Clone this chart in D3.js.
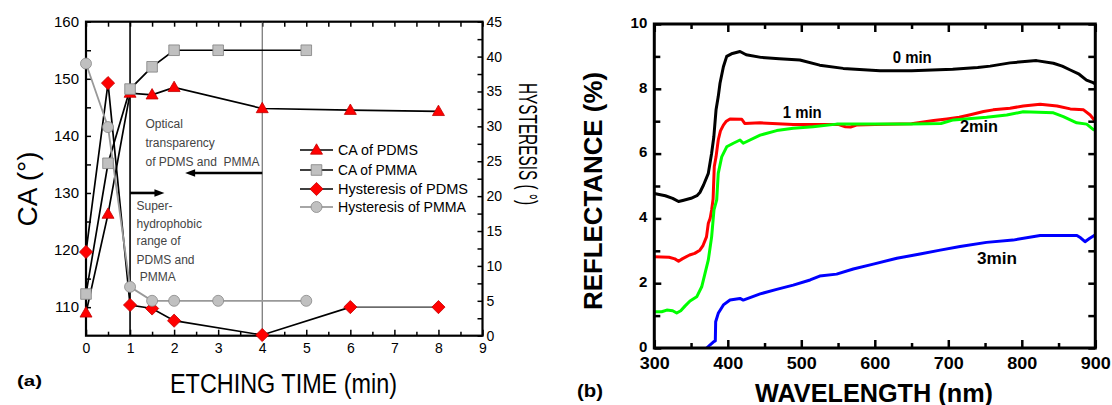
<!DOCTYPE html>
<html><head><meta charset="utf-8">
<script src="https://cdn.jsdelivr.net/npm/d3@7"></script>
<style>
body{margin:0;background:#fff}
svg{display:block}
text{font-family:"Liberation Sans",Arial,sans-serif}
</style>
</head><body>
<svg id="c" width="1112" height="405"></svg>
<script>
// ---------- Panel (a) data ----------
const timePDMS = [0, 0.5, 1, 1.5, 2, 4, 6, 8];
const caPDMS = [109, 126.3, 147.5, 147.2, 148.5, 144.8, 144.5, 144.3];
const timePMMA = [0, 0.5, 1, 1.5, 2, 3, 5];
const caPMMA = [112.3, 135.2, 148.2, 152.1, 155, 155, 155];
const hystPDMS = [12, 36.2, 4.4, 3.9, 2.15, 0.1, 4.1, 4.1];
const hystPMMA = [39, 29.9, 7, 5, 5, 5, 5];
const xTicksA = [0, 1, 2, 3, 4, 5, 6, 7, 8, 9];
const xMinorA = [0.5, 1.5, 2.5, 3.5, 4.5, 5.5, 6.5, 7.5, 8.5];
const caTicks = [110, 120, 130, 140, 150, 160];
const caMinor = [115, 125, 135, 145, 155];
const hystTicks = [0, 5, 10, 15, 20, 25, 30, 35, 40, 45];
const hystMinor = [2.5, 7.5, 12.5, 17.5, 22.5, 27.5, 32.5, 37.5, 42.5];
const legendLabels = ["CA of PDMS", "CA of PMMA", "Hysteresis of PDMS", "Hysteresis of PMMA"];
const noteOptical = ["Optical", "transparency", "of PDMS and  PMMA"];
const noteSuper = ["Super-", "hydrophobic", "range of", "PDMS and", " PMMA"];

// ---------- Panel (b) data ----------
const wl0 = [300,315,325,333,340,350,358,362,367,373.5,378,381,384,387,389.4,394,398.5,405,416.6,425,445,470,498,525,557,607,650,706,740,757,784,820,843,855,866,878,888,897,900];
const r0  = [4.77,4.7,4.62,4.52,4.56,4.62,4.7,4.8,5.03,5.39,6.01,6.52,7.35,7.76,8.17,8.68,9.0,9.08,9.15,9.05,8.97,8.93,8.89,8.73,8.63,8.56,8.56,8.6,8.66,8.7,8.8,8.87,8.79,8.7,8.58,8.45,8.27,8.19,8.15];
const wl1 = [300,320,328,333,338,348,355,362,366,371,373.5,376,378,380,381.6,384,387,390,394,398,403,419,423,444,489,520,550,560,567,575,600,650,680,698,715,730,748,761,784,802,825,848,866,884,893,900];
const r1  = [2.82,2.8,2.75,2.68,2.75,2.87,2.92,3.02,3.15,3.43,3.85,4.0,4.26,4.6,5.6,5.9,6.42,6.7,6.88,7.0,7.07,7.06,6.93,6.95,6.9,6.9,6.9,6.83,6.82,6.88,6.9,6.92,7.02,7.07,7.12,7.2,7.3,7.35,7.4,7.47,7.52,7.47,7.38,7.35,7.19,7.0];
const wl2 = [300,310,317,325,330.5,336,342,348.6,357.7,364.5,369,373.5,378,381.2,384.9,387,391.7,398.5,407.5,416.6,421,444,466.5,489,516,548,600,650,690,707,752,779.5,802,843,856.5,874.7,888.3,897,900];
const r2  = [1.12,1.12,1.17,1.15,1.08,1.15,1.3,1.45,1.58,1.89,2.3,2.72,3.43,4.26,4.57,5.39,5.9,6.21,6.32,6.42,6.32,6.57,6.71,6.78,6.83,6.91,6.91,6.91,6.93,7.04,7.12,7.19,7.29,7.26,7.14,6.95,6.91,6.75,6.72];
const wl3 = [371.3,376,381,383,383.5,387,394,403,416.6,421,444,466.5,489,512,525,548,570.7,598,630,661.5,689,716,752,788,825,875,880,886,892,899.6];
const r3  = [0.0,0.1,0.2,0.22,0.81,1.07,1.33,1.48,1.53,1.48,1.67,1.81,1.94,2.1,2.22,2.28,2.44,2.59,2.77,2.9,3.02,3.13,3.26,3.33,3.47,3.47,3.4,3.28,3.38,3.49];
const wlTicks = [300, 400, 500, 600, 700, 800, 900];
const wlMinor = [350, 450, 550, 650, 750, 850];
const rTicks = [0, 2, 4, 6, 8, 10];
const rMinor = [1, 3, 5, 7, 9];
const curveNames = ["0 min", "1 min", "2min", "3min"];

const svg = d3.select("#c");

// ================= Panel (a) =================
const xA = d3.scaleLinear().domain([0, 9]).range([86, 482.5]);
const yCA = d3.scaleLinear().domain([105, 160]).range([335.7, 21.7]);
const yH = d3.scaleLinear().domain([0, 45]).range([335.7, 21.7]);

const gA = svg.append("g");

function styleAxis(g, fs, bold, sw) {
  g.select(".domain").remove();
  g.selectAll(".tick line").attr("stroke", "#000").attr("stroke-width", sw);
  g.selectAll("text").attr("font-size", fs).attr("font-weight", bold ? "bold" : "normal")
    .attr("fill", "#000").attr("font-family", "'Liberation Sans',Arial,sans-serif");
}

// axes (ticks inside)
gA.append("g").attr("transform", `translate(0,${yCA.range()[0]})`)
  .call(d3.axisBottom(xA).tickValues(xTicksA).tickSizeInner(-6).tickSizeOuter(0).tickPadding(7.7).tickFormat(d3.format("d")))
  .call(g => styleAxis(g, 14, false, 1.5));
gA.append("g").attr("transform", `translate(0,${yCA.range()[0]})`)
  .call(d3.axisBottom(xA).tickValues(xMinorA).tickSizeInner(-4).tickSizeOuter(0).tickFormat(""))
  .call(g => styleAxis(g, 14, false, 1.5));
gA.append("g").attr("transform", `translate(0,${yCA.range()[1]})`)
  .call(d3.axisTop(xA).tickValues(xTicksA.concat(xMinorA)).tickSizeInner(-5).tickSizeOuter(0).tickFormat(""))
  .call(g => styleAxis(g, 14, false, 1.5));
gA.append("g").attr("transform", `translate(${xA.range()[0]},0)`)
  .call(d3.axisLeft(yCA).tickValues(caTicks).tickSizeInner(-5).tickSizeOuter(0).tickPadding(7))
  .call(g => styleAxis(g, 15, false, 1.5));
gA.append("g").attr("transform", `translate(${xA.range()[0]},0)`)
  .call(d3.axisLeft(yCA).tickValues(caMinor).tickSizeInner(-5).tickSizeOuter(0).tickFormat(""))
  .call(g => styleAxis(g, 15, false, 1.5));
gA.append("g").attr("transform", `translate(${xA.range()[1]},0)`)
  .call(d3.axisRight(yH).tickValues(hystTicks).tickSizeInner(-5).tickSizeOuter(0).tickPadding(4))
  .call(g => styleAxis(g, 14, false, 1.5));
gA.append("g").attr("transform", `translate(${xA.range()[1]},0)`)
  .call(d3.axisRight(yH).tickValues(hystMinor).tickSizeInner(-5).tickSizeOuter(0).tickFormat(""))
  .call(g => styleAxis(g, 14, false, 1.5));

// frame
gA.append("rect").attr("x", xA(0)).attr("y", yCA(160)).attr("width", xA(9) - xA(0)).attr("height", yCA(105) - yCA(160))
  .attr("fill", "none").attr("stroke", "#000").attr("stroke-width", 2.2);

// vertical reference lines
gA.append("line").attr("x1", xA(1)).attr("x2", xA(1)).attr("y1", yCA(160)).attr("y2", yCA(105))
  .attr("stroke", "#000").attr("stroke-width", 1.6);
gA.append("line").attr("x1", xA(4)).attr("x2", xA(4)).attr("y1", yCA(160)).attr("y2", yCA(105))
  .attr("stroke", "#555").attr("stroke-width", 1);

// arrows
function arrow(x1, x2, y) {
  const dir = Math.sign(x2 - x1);
  gA.append("line").attr("x1", x1).attr("x2", x2 - dir * 6).attr("y1", y).attr("y2", y)
    .attr("stroke", "#000").attr("stroke-width", 2.6);
  gA.append("path").attr("d", `M${x2},${y}L${x2 - dir * 10},${y - 3.8}L${x2 - dir * 10},${y + 3.8}Z`).attr("fill", "#000");
}
arrow(xA(1), xA(1.78), yCA(130));
arrow(xA(4), xA(2.25), yCA(133.5));

// annotation texts
const noteY1 = [127.5, 147, 165.5];
gA.selectAll("text.opt").data(noteOptical).join("text").attr("class", "opt")
  .attr("x", 145.5).attr("y", (d, i) => noteY1[i]).attr("font-size", 12).attr("fill", "#444")
  .style("white-space", "pre").text(d => d);
const noteY2 = [210, 227.5, 245, 263.5, 281];
gA.selectAll("text.sup").data(noteSuper).join("text").attr("class", "sup")
  .attr("x", 136.5).attr("y", (d, i) => noteY2[i]).attr("font-size", 12).attr("fill", "#444")
  .style("white-space", "pre").text(d => d);

// series
const lineCA = d3.line().x(d => xA(d[0])).y(d => yCA(d[1]));
const lineH = d3.line().x(d => xA(d[0])).y(d => yH(d[1]));
const sCA1 = timePDMS.map((t, i) => [t, caPDMS[i]]);
const sCA2 = timePMMA.map((t, i) => [t, caPMMA[i]]);
const sH1 = timePDMS.map((t, i) => [t, hystPDMS[i]]);
const sH2 = timePMMA.map((t, i) => [t, hystPMMA[i]]);

gA.append("path").attr("d", lineCA(sCA1)).attr("fill", "none").attr("stroke", "#000").attr("stroke-width", 1.7);
gA.append("path").attr("d", lineCA(sCA2)).attr("fill", "none").attr("stroke", "#000").attr("stroke-width", 1.7);
gA.append("path").attr("d", lineH(sH1.slice(0, 7))).attr("fill", "none").attr("stroke", "#000").attr("stroke-width", 1.7);
gA.append("path").attr("d", lineH(sH1.slice(6))).attr("fill", "none").attr("stroke", "#000").attr("stroke-width", 1);
gA.append("path").attr("d", lineH(sH2)).attr("fill", "none").attr("stroke", "#999").attr("stroke-width", 1.8);

const sym = {
  tri: "M0,-6.2L6,4.2L-6,4.2Z",
  sq: "M-5.3,-5.3H5.3V5.3H-5.3Z",
  dia: "M0,-6.6L6.6,0L0,6.6L-6.6,0Z",
  cir: d3.symbol(d3.symbolCircle, 95)()
};
const symStyle = {
  tri: ["#ff0000", "#c00000"], sq: ["#c0c0c0", "#808080"], dia: ["#ff0000", "#c00000"], cir: ["#c0c0c0", "#888"]
};
function markers(data, y, s) {
  gA.append("g").selectAll("path").data(data).join("path")
    .attr("transform", d => `translate(${xA(d[0])},${y(d[1])})`)
    .attr("d", sym[s]).attr("fill", symStyle[s][0]).attr("stroke", symStyle[s][1]).attr("stroke-width", 0.8);
}
markers(sCA1, yCA, "tri");
markers(sCA2, yCA, "sq");
markers(sH1, yH, "dia");
markers(sH2, yH, "cir");

// legend
const legY = [150, 170, 189, 207];
const legSym = ["tri", "sq", "dia", "cir"];
const legLine = ["#000", "#000", "#000", "#888"];
const legLen = [80, 79, 130, 128];
legendLabels.forEach((lab, i) => {
  gA.append("line").attr("x1", 300).attr("x2", 333).attr("y1", legY[i]).attr("y2", legY[i])
    .attr("stroke", legLine[i]).attr("stroke-width", 1.6);
  gA.append("path").attr("transform", `translate(316.5,${legY[i]})`).attr("d", sym[legSym[i]])
    .attr("fill", symStyle[legSym[i]][0]).attr("stroke", symStyle[legSym[i]][1]).attr("stroke-width", 0.8);
  gA.append("text").attr("x", 338).attr("y", legY[i] + 5.3).attr("font-size", 15)
    .attr("textLength", legLen[i]).attr("lengthAdjust", "spacingAndGlyphs").attr("fill", "#000").text(lab);
});

// axis titles
gA.append("text").attr("transform", "translate(37,189) rotate(-90)").attr("text-anchor", "middle")
  .attr("font-size", 28).attr("fill", "#000").text("CA (°)");
gA.append("text").attr("transform", "translate(519,144) rotate(90)").attr("text-anchor", "middle")
  .attr("font-size", 26).attr("textLength", 122).attr("lengthAdjust", "spacingAndGlyphs")
  .attr("fill", "#000").style("white-space", "pre").text("HYSTERESIS ( °)");
gA.append("text").attr("x", 283.5).attr("y", 393).attr("text-anchor", "middle")
  .attr("font-size", 27).attr("textLength", 227).attr("lengthAdjust", "spacingAndGlyphs")
  .attr("fill", "#000").text("ETCHING TIME (min)");
gA.append("text").attr("x", 17).attr("y", 386).attr("font-size", 15).attr("font-weight", "bold")
  .attr("font-family", "'Liberation Serif','Times New Roman',serif").attr("textLength", 25)
  .attr("lengthAdjust", "spacingAndGlyphs").text("(a)");

// ================= Panel (b) =================
const xB = d3.scaleLinear().domain([300, 900]).range([654.3, 1095.3]);
const yB = d3.scaleLinear().domain([0, 10]).range([348, 24]);
const gB = svg.append("g");

const curves = [
  { wl: wl0, r: r0, color: "#000000" },
  { wl: wl1, r: r1, color: "#ff0000" },
  { wl: wl2, r: r2, color: "#00ff00" },
  { wl: wl3, r: r3, color: "#0000ff" }
];
const lineB = d3.line().x(d => xB(d[0])).y(d => yB(d[1]));
curves.forEach(c => {
  gB.append("path").attr("d", lineB(c.wl.map((w, i) => [w, c.r[i]])))
    .attr("fill", "none").attr("stroke", c.color).attr("stroke-width", 3).attr("stroke-linejoin", "round");
});

gB.append("g").attr("transform", `translate(0,${yB(0)})`)
  .call(d3.axisBottom(xB).tickValues(wlTicks).tickSizeInner(-8).tickSizeOuter(0).tickPadding(9.5))
  .call(g => styleAxis(g, 16, true, 2.5))
  .call(g => g.selectAll("text").attr("textLength", 30).attr("lengthAdjust", "spacingAndGlyphs"));
gB.append("g").attr("transform", `translate(0,${yB(0)})`)
  .call(d3.axisBottom(xB).tickValues(wlMinor).tickSizeInner(-5).tickSizeOuter(0).tickFormat(""))
  .call(g => styleAxis(g, 17, true, 2.5));
gB.append("g").attr("transform", `translate(0,${yB(10)})`)
  .call(d3.axisTop(xB).tickValues(wlTicks).tickSizeInner(-8).tickSizeOuter(0).tickFormat(""))
  .call(g => styleAxis(g, 17, true, 2.5));
gB.append("g").attr("transform", `translate(0,${yB(10)})`)
  .call(d3.axisTop(xB).tickValues(wlMinor).tickSizeInner(-5).tickSizeOuter(0).tickFormat(""))
  .call(g => styleAxis(g, 17, true, 2.5));
gB.append("g").attr("transform", `translate(${xB(300)},0)`)
  .call(d3.axisLeft(yB).tickValues(rTicks).tickSizeInner(-7).tickSizeOuter(0).tickPadding(7))
  .call(g => styleAxis(g, 15, true, 2.5))
  .call(g => g.selectAll("text").attr("dy", "0.22em"));
gB.append("g").attr("transform", `translate(${xB(300)},0)`)
  .call(d3.axisLeft(yB).tickValues(rMinor).tickSizeInner(-6).tickSizeOuter(0).tickFormat(""))
  .call(g => styleAxis(g, 16, true, 2.5));
gB.append("g").attr("transform", `translate(${xB(900)},0)`)
  .call(d3.axisRight(yB).tickValues(rTicks.concat(rMinor)).tickSizeInner(-7).tickSizeOuter(0).tickFormat(""))
  .call(g => styleAxis(g, 16, true, 2.5));

gB.append("rect").attr("x", xB(300)).attr("y", yB(10)).attr("width", xB(900) - xB(300)).attr("height", yB(0) - yB(10))
  .attr("fill", "none").attr("stroke", "#000").attr("stroke-width", 3);

// curve labels
const labX = [892.7, 782.7, 960, 977];
const labY = [63.3, 117.7, 132, 264];
const labLen = [39, 39, 38, 40];
curveNames.forEach((t, i) => {
  gB.append("text").attr("x", labX[i]).attr("y", labY[i]).attr("font-size", 16).attr("font-weight", "bold")
    .attr("textLength", labLen[i]).attr("lengthAdjust", "spacingAndGlyphs").attr("fill", "#000").text(t);
});

gB.append("text").attr("transform", "translate(601.5,191) rotate(-90)").attr("text-anchor", "middle")
  .attr("font-size", 26).attr("font-weight", "bold").attr("textLength", 238).attr("lengthAdjust", "spacingAndGlyphs")
  .attr("fill", "#000").text("REFLECTANCE (%)");
gB.append("text").attr("x", 874).attr("y", 401.5).attr("text-anchor", "middle")
  .attr("font-size", 25).attr("font-weight", "bold").attr("textLength", 238).attr("lengthAdjust", "spacingAndGlyphs")
  .attr("fill", "#000").text("WAVELENGTH (nm)");
gB.append("text").attr("x", 577).attr("y", 397).attr("font-size", 19).attr("font-weight", "bold")
  .attr("font-family", "'Liberation Serif','Times New Roman',serif").attr("textLength", 26)
  .attr("lengthAdjust", "spacingAndGlyphs").text("(b)");
</script>
</body></html>
